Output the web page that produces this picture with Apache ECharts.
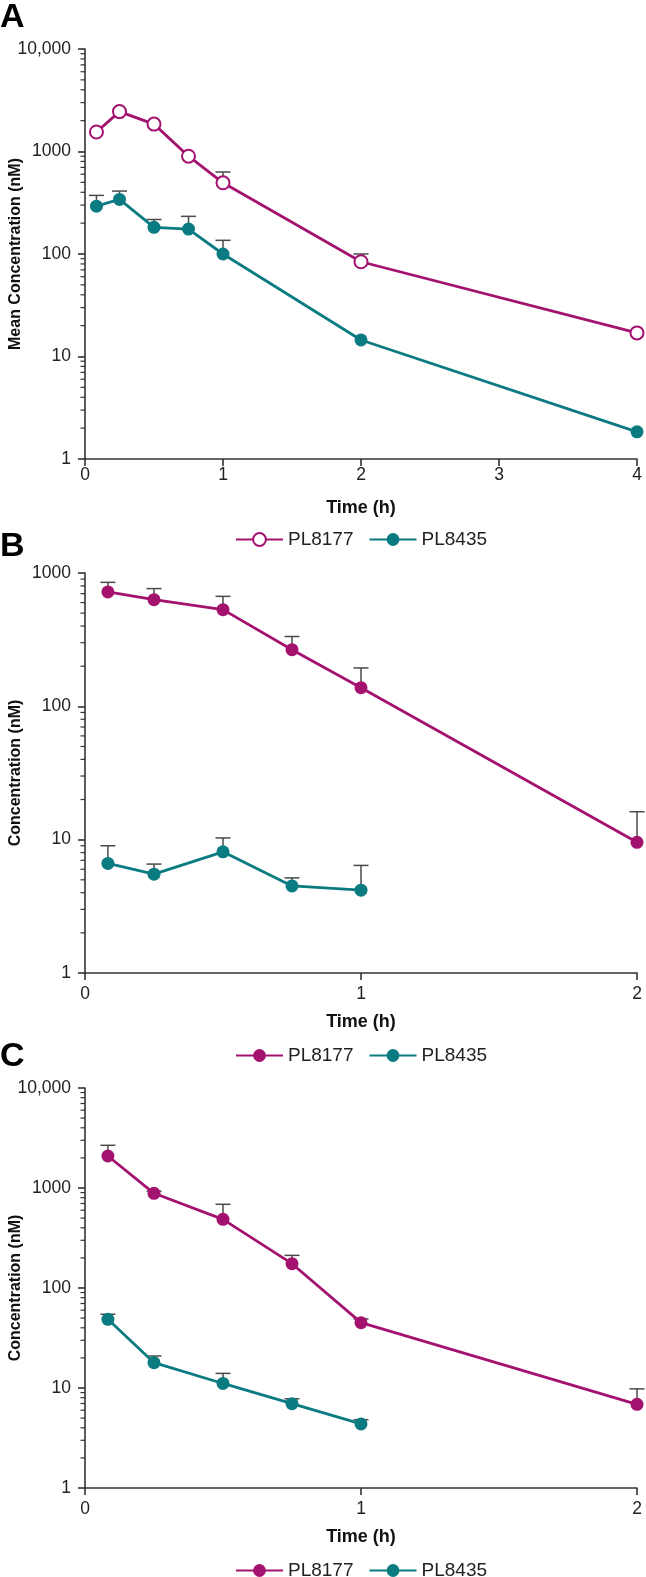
<!DOCTYPE html>
<html><head><meta charset="utf-8">
<script src="https://cdn.jsdelivr.net/npm/echarts@6/dist/echarts.min.js"></script>
<style>html,body{margin:0;padding:0;background:#fff}#c{width:646px;height:1577px}</style>
</head><body><div id="c"></div>
<script>
// ---------- data ----------
const timesA = [0.083, 0.25, 0.5, 0.75, 1, 2, 4];
const a8177 = [1550, 2450, 1850, 900, 495, 84, 17];
const a8177Err = [null, null, null, null, 631, 100, null];
const a8435 = [293, 341, 182, 175, 100, 14.5, 1.84];
const a8435Err = [373, 411, 217, 233, 136, null, null];

const timesB = [0.083, 0.25, 0.5, 0.75, 1, 2];
const b8177 = [721, 631, 531, 266, 138, 9.55];
const b8177Err = [851, 764, 668, 334, 194, 16.2];
const b8435 = [6.64, 5.51, 8.11, 4.5, 4.18];
const b8435Err = [9.0, 6.56, 10.3, 5.17, 6.41];

const timesC = [0.083, 0.25, 0.5, 0.75, 1, 2];
const c8177 = [2090, 885, 486, 175, 45, 6.87];
const c8177Err = [2673, 930, 687, 212, 49, 9.8];
const c8435 = [48.6, 17.9, 11.1, 6.97, 4.37];
const c8435Err = [54.6, 20.9, 14.0, 7.8, 4.82];

const xTicksA = ['0', '1', '2', '3', '4'];
const xTicksBC = ['0', '1', '2'];
const yTickLabels = {1: '1', 10: '10', 100: '100', 1000: '1000', 10000: '10,000'};
const seriesNames = ['PL8177', 'PL8435'];
const panelLetters = ['A', 'B', 'C'];
const yTitles = ['Mean Concentration (nM)', 'Concentration (nM)', 'Concentration (nM)'];
const xTitle = 'Time (h)';

// ---------- styling ----------
const MAG = '#A4126F';
const TEAL = '#0A7B80';
const AX = '#333333';
const FONT = '"Liberation Sans", Arial, Helvetica, sans-serif';

const chart = echarts.init(document.getElementById('c'), null, {renderer: 'canvas'});

const grids = [
  {left: 85, right: 9, top: 49, height: 410, containLabel: false, outerBoundsMode: 'none'},
  {left: 85, right: 9, top: 573, height: 400, containLabel: false, outerBoundsMode: 'none'},
  {left: 85, right: 9, top: 1088, height: 400, containLabel: false, outerBoundsMode: 'none'}
];

function xAxis(gi, max, ticks, margin) {
  return {
    gridIndex: gi, type: 'value', min: 0, max: max, interval: 1,
    name: xTitle, nameLocation: 'middle', nameGap: 40, nameMoveOverlap: false,
    nameTextStyle: {fontFamily: FONT, fontSize: 18, fontWeight: 'bold', color: '#111'},
    axisLine: {show: true, lineStyle: {color: AX, width: 1.6}},
    axisTick: {show: true, length: 7, lineStyle: {color: AX, width: 1.6}},
    axisLabel: {margin: margin, fontFamily: FONT, fontSize: 17.5, color: '#222',
      formatter: v => ticks[Math.round(v)]},
    splitLine: {show: false}
  };
}
function yAxis(gi, max, title) {
  return {
    gridIndex: gi, type: 'log', logBase: 10, min: 1, max: max,
    name: title, nameLocation: 'middle', nameGap: 61, nameRotate: 90, nameMoveOverlap: false,
    nameTextStyle: {fontFamily: FONT, fontSize: 16, fontWeight: 'bold', color: '#111'},
    axisLine: {show: true, lineStyle: {color: AX, width: 1.6}},
    axisTick: {show: true, length: 7, lineStyle: {color: AX, width: 1.6}},
    axisLabel: {margin: 14, fontFamily: FONT, fontSize: 17.5, color: '#222',
      formatter: v => yTickLabels[Math.round(v)] || ''},
    splitLine: {show: false}
  };
}

function pairs(times, vals) { return vals.map((v, i) => [times[i], v]); }
function errPairs(times, vals, errs) {
  const out = [];
  vals.forEach((v, i) => { if (errs[i] != null) out.push([times[i], v, errs[i]]); });
  return out;
}
function errRender(params, api) {
  const x = api.value(0), m = api.value(1), t = api.value(2);
  const p0 = api.coord([x, m]), p1 = api.coord([x, t]);
  const hw = 7.5;
  const st = {stroke: '#4a4a4a', lineWidth: 1.5};
  return {type: 'group', children: [
    {type: 'line', shape: {x1: p0[0], y1: p0[1], x2: p1[0], y2: p1[1]}, style: st},
    {type: 'line', shape: {x1: p1[0] - hw, y1: p1[1], x2: p1[0] + hw, y2: p1[1]}, style: st}
  ]};
}
function minorTickData(decades) {
  const out = [];
  for (let e = 0; e < decades; e++) for (let k = 2; k <= 9; k++) out.push([0, k * Math.pow(10, e)]);
  return out;
}
function minorRender(params, api) {
  const p = api.coord([api.value(0), api.value(1)]);
  return {type: 'line', shape: {x1: p[0] - 4.5, y1: p[1], x2: p[0], y2: p[1]},
    style: {stroke: AX, lineWidth: 1.2}};
}

function lineSeries(gi, tag, name, data, color, empty) {
  return {
    type: 'line', name: name + '|' + tag, xAxisIndex: gi, yAxisIndex: gi,
    data: data, clip: false, z: 3,
    symbol: empty ? 'emptyCircle' : 'circle', symbolSize: 13,
    lineStyle: {color: color, width: 2.8},
    itemStyle: {color: color, borderColor: color, borderWidth: empty ? 2 : 0}
  };
}
function errSeries(gi, data) {
  return {type: 'custom', xAxisIndex: gi, yAxisIndex: gi, data: data, z: 2,
    renderItem: errRender, clip: false, encode: {x: 0, y: [1, 2]}, silent: true};
}
function minorSeries(gi, decades) {
  return {type: 'custom', xAxisIndex: gi, yAxisIndex: gi, data: minorTickData(decades), z: 1,
    renderItem: minorRender, clip: false, encode: {x: 0, y: 1}, silent: true};
}

function legend(top, tag) {
  return {
    left: 235, top: top, orient: 'horizontal', padding: 0,
    itemWidth: 47, itemHeight: 16, itemGap: 15,
    selectedMode: false,
    textStyle: {fontFamily: FONT, fontSize: 19, color: '#222'},
    formatter: n => n.split('|')[0],
    data: seriesNames.map(n => n + '|' + tag)
  };
}

const option = {
  animation: false,
  backgroundColor: '#fff',
  grid: grids,
  xAxis: [xAxis(0, 4, xTicksA, 7), xAxis(1, 2, xTicksBC, 12), xAxis(2, 2, xTicksBC, 12)],
  yAxis: [yAxis(0, 10000, yTitles[0]), yAxis(1, 1000, yTitles[1]), yAxis(2, 10000, yTitles[2])],
  legend: [legend(530, 'A'), legend(1046, 'B'), legend(1561, 'C')],
  graphic: [
    {type: 'text', left: 0, top: 1, style: {text: panelLetters[0], font: 'bold 34px ' + FONT, fill: '#000'}},
    {type: 'text', left: 0, top: 530, style: {text: panelLetters[1], font: 'bold 34px ' + FONT, fill: '#000'}},
    {type: 'text', left: 0, top: 1040, style: {text: panelLetters[2], font: 'bold 34px ' + FONT, fill: '#000'}}
  ],
  series: [
    minorSeries(0, 4), minorSeries(1, 3), minorSeries(2, 4),
    errSeries(0, errPairs(timesA, a8177, a8177Err)),
    errSeries(0, errPairs(timesA, a8435, a8435Err)),
    errSeries(1, errPairs(timesB, b8177, b8177Err)),
    errSeries(1, errPairs(timesB, b8435, b8435Err)),
    errSeries(2, errPairs(timesC, c8177, c8177Err)),
    errSeries(2, errPairs(timesC, c8435, c8435Err)),
    lineSeries(0, 'A', 'PL8177', pairs(timesA, a8177), MAG, true),
    lineSeries(0, 'A', 'PL8435', pairs(timesA, a8435), TEAL, false),
    lineSeries(1, 'B', 'PL8177', pairs(timesB, b8177), MAG, false),
    lineSeries(1, 'B', 'PL8435', pairs(timesB, b8435), TEAL, false),
    lineSeries(2, 'C', 'PL8177', pairs(timesC, c8177), MAG, false),
    lineSeries(2, 'C', 'PL8435', pairs(timesC, c8435), TEAL, false)
  ]
};
chart.setOption(option);
</script>
</body></html>
